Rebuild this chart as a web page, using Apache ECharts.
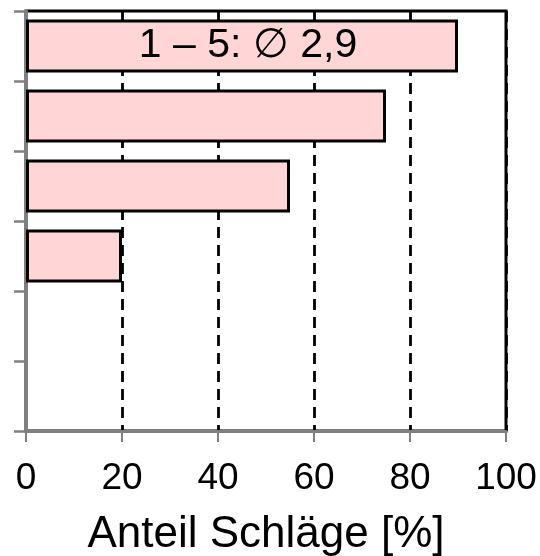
<!DOCTYPE html>
<html>
<head>
<meta charset="utf-8">
<script src="https://cdn.jsdelivr.net/npm/echarts@6/dist/echarts.min.js"></script>
<style>html,body{margin:0;padding:0;background:#fff;}#c{width:540px;height:556px;}</style>
</head>
<body>
<div id="c"></div>
<script>
var categories = ['1', '2', '3', '4', '5', '6'];
var values = [90, 75, 55, 20, 0, 0];
var xTicks = [0, 20, 40, 60, 80, 100];
var barLabel = '1 \u2013 5: \u2205 2,9';
var xTitle = 'Anteil Schl\u00e4ge [%]';

var chart = echarts.init(document.getElementById('c'), null, {renderer: 'canvas'});
var font = '"Liberation Sans", Arial, sans-serif';
chart.setOption({
  animation: false,
  grid: {left: 26, right: 34, top: 11, bottom: 125, show: true, borderColor: '#000', borderWidth: 3, backgroundColor: 'transparent', containLabel: false, outerBoundsMode: 'none'},
  xAxis: {
    type: 'value', min: xTicks[0], max: xTicks[xTicks.length - 1], interval: 20,
    axisLine: {show: true, lineStyle: {color: '#808080', width: 3}},
    axisTick: {show: true, length: 11, lineStyle: {color: '#808080', width: 2}},
    axisLabel: {color: '#000', fontSize: 37, fontFamily: font, margin: 29},
    splitLine: {show: true, lineStyle: {color: '#000', width: 2.8, type: [11, 7]}},
    name: xTitle, nameLocation: 'middle', nameGap: 82,
    nameTextStyle: {color: '#000', fontSize: 44, fontFamily: font}
  },
  yAxis: {
    type: 'category', data: categories, inverse: true,
    axisLine: {show: true, lineStyle: {color: '#808080', width: 3}},
    axisTick: {show: true, length: 12, lineStyle: {color: '#808080', width: 2.5}},
    axisLabel: {show: false},
    splitLine: {show: false}
  },
  series: [{
    type: 'bar',
    data: values.map(function (v, i) {
      var d = {value: v};
      if (i === 0) {
        d.label = {show: true, position: 'inside', formatter: barLabel, color: '#000', fontSize: 41, fontFamily: font, offset: [6, 0]};
      }
      if (!v) d.itemStyle = {borderWidth: 0};
      return d;
    }),
    barCategoryGap: '24%',
    itemStyle: {color: '#ffd5d5', borderColor: '#000', borderWidth: 3},
    label: {show: false}
  }]
});
</script>
</body>
</html>
